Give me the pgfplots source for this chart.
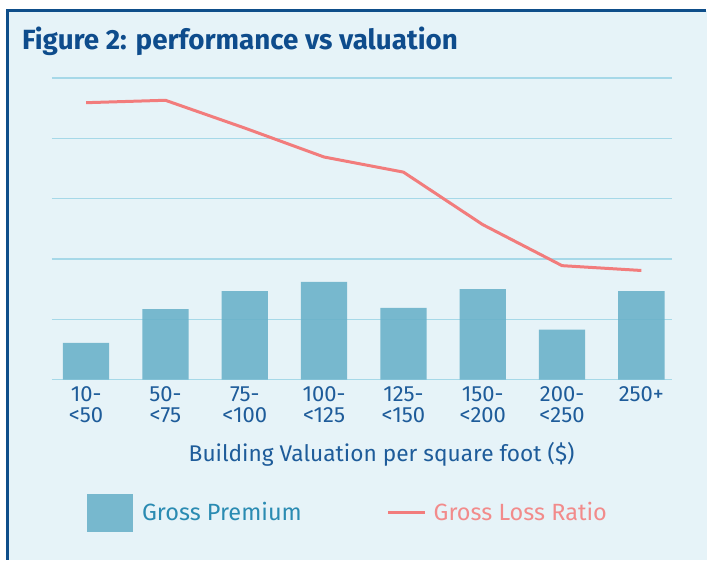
\documentclass[border=0pt]{standalone}
\usepackage{fontspec}
\setmainfont{Fira Sans}
\usepackage{pgfplots}
\pgfplotsset{compat=1.18}
\usetikzlibrary{backgrounds,calc}
\definecolor{bg}{HTML}{E6F3F8}
\definecolor{framecol}{HTML}{0E4E8A}
\definecolor{titlecol}{HTML}{0E4C8C}
\definecolor{gridcol}{HTML}{A6D8E8}
\definecolor{barcol}{HTML}{6BB2CA}
\definecolor{linecol}{HTML}{F27C7C}
\definecolor{tickcol}{HTML}{1E5C9A}
\definecolor{premtext}{HTML}{2A8BB2}
\definecolor{losstext}{HTML}{F28B8B}
\begin{document}
\begin{tikzpicture}
\begin{axis}[
  width=620pt, height=302pt, scale only axis,
  xmin=-0.43, xmax=7.38, ymin=0, ymax=5,
  xtick={0,1,2,3,4,5,6,7},
  xticklabels={{10-\\<50},{50-\\<75},{75-\\<100},{100-\\<125},{125-\\<150},{150-\\<200},{200-\\<250},{250+\\\strut}},
  xticklabel style={align=center, font=\fontsize{22}{20.5}\selectfont, text=tickcol, anchor=north, inner sep=0pt, yshift=-7pt},
  ytick={0,1,2,3,4,5}, yticklabels={}, yticklabel style={inner sep=0pt},
  ymajorgrids, grid style={gridcol, line width=1.3pt},
  axis line style={draw=none}, major tick length=0pt,
  xlabel={Building Valuation per square foot (\$)},
  xlabel style={at={(axis description cs:0.532,-0.2705)}, anchor=base, font=\fontsize{22.7}{22.7}\selectfont, text=tickcol, inner sep=0pt},
  legend style={at={(axis description cs:0.0565,-0.44)}, anchor=west, draw=none, fill=none, inner sep=0pt,
    font=\fontsize{23.5}{23.5}\selectfont,
    /tikz/column 1/.style={column sep=9pt},
    /tikz/column 2/.style={column sep=85pt},
    /tikz/column 3/.style={column sep=7pt},
    nodes={inner sep=0pt, anchor=west}},
  legend columns=2, legend cell align=left,
]
\coordinate (O) at (rel axis cs:0,0);
\addplot[ybar, bar width=46.3pt, fill=barcol, fill opacity=0.9, draw=none,
  legend image code/.code={\fill[barcol] (0pt,-19pt) rectangle (46pt,19pt);}]
  coordinates {(0,0.61) (1,1.17) (2,1.47) (3,1.62) (4,1.19) (5,1.50) (6,0.83) (7,1.47)};
\addlegendentry{\textcolor{premtext}{Gross Premium}}
\addplot[linecol, line width=3pt, mark=none,
  legend image code/.code={\draw[linecol, line width=3pt] (0pt,0pt) -- (37pt,0pt);}]
  coordinates {(0,4.59) (1,4.63) (2,4.17) (3,3.69) (4,3.44) (5,2.57) (6,1.89) (7,1.81)};
\addlegendentry{\textcolor{losstext}{Gross Loss Ratio}}
\end{axis}
\begin{scope}[on background layer, shift={(O)}, x=1pt, y=1pt]
\fill[white] (-52,-180) rectangle (655,380);
\fill[bg] (-44,-180) rectangle (655,369);
\draw[framecol, line width=3pt] (-44,-180) -- (-44,369) -- (654,369);
\end{scope}
\node[anchor=base west, font=\bfseries\fontsize{27.8}{27.8}\selectfont, text=titlecol, inner sep=0pt] at ($(O)+(-30pt,330pt)$) {Figure 2: performance vs valuation};
\end{tikzpicture}
\end{document}
